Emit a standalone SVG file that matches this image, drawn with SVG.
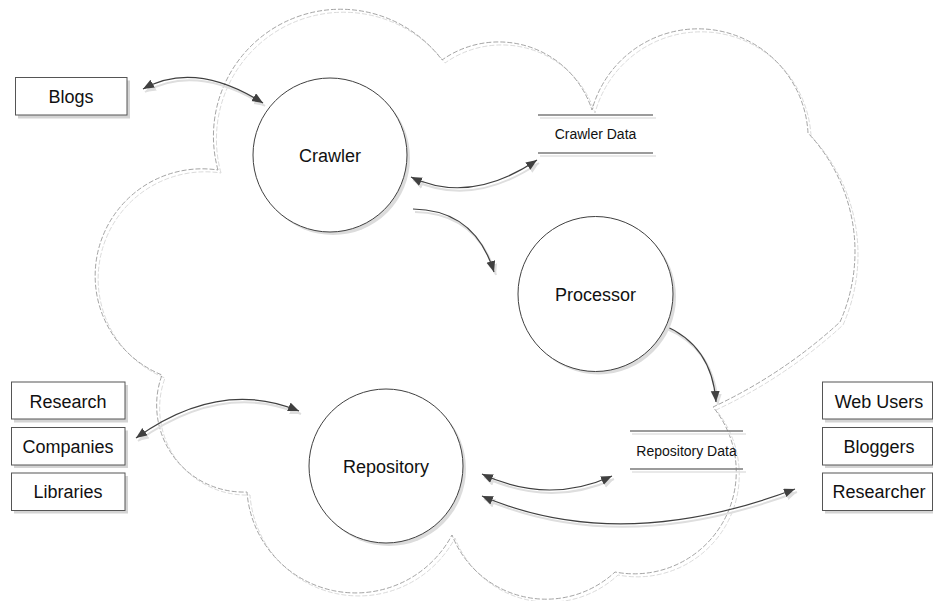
<svg xmlns="http://www.w3.org/2000/svg" width="933" height="601" viewBox="0 0 933 601">
<style>
.cloud{fill:none;stroke:#9a9a9a;stroke-width:0.9;stroke-dasharray:5 2}
.cloudsh{fill:none;stroke:#d6d6d6;stroke-width:0.9;stroke-dasharray:5 2}
.box{fill:#fff;stroke:#555;stroke-width:1}
.boxsh{fill:#d4d4d4;stroke:none}
.proc{fill:#fff;stroke:#404040;stroke-width:1}
.procsh{fill:#dcdcdc;stroke:none}
.store{stroke:#7a7a7a;stroke-width:1.6}
.storesh{stroke:#e2e2e2;stroke-width:1.6}
.lbl{font-family:"Liberation Sans",Arial,sans-serif;font-size:18px;fill:#111;text-anchor:middle}
.slbl{font-family:"Liberation Sans",Arial,sans-serif;font-size:14px;fill:#111;text-anchor:middle}
.flow{fill:none;stroke:#404040;stroke-width:1.2}
.flowsh{fill:none;stroke:#dedede;stroke-width:2}
</style>
<defs>
<marker id="ah" markerUnits="userSpaceOnUse" markerWidth="12" markerHeight="10" refX="11" refY="4.5" orient="auto-start-reverse" viewBox="0 0 12 10">
<path d="M0,0 L11,4.5 L0,9 z" fill="#404040"/>
</marker>
<marker id="ahs" markerUnits="userSpaceOnUse" markerWidth="12" markerHeight="10" refX="11" refY="4.5" orient="auto-start-reverse" viewBox="0 0 12 10">
<path d="M0,0 L11,4.5 L0,9 z" fill="#dedede"/>
</marker>
<path id="cloudpath" d="M218,170 A127,127 0 0 1 442,60 A98,98 0 0 1 592,110 A110,110 0 0 1 808,133 A173,173 0 0 1 840,322 A500,500 0 0 1 713,407 A102,102 0 0 1 615,572 A101,101 0 0 1 452,535 A109,109 0 0 1 247,492 A87,87 0 0 1 162,375 A107,107 0 0 1 218,170 Z"/>
</defs>

<g id="cloud">
<use href="#cloudpath" class="cloudsh" transform="translate(3,3)"/>
<use href="#cloudpath" class="cloud"/>
</g>

<g id="connectors">
<g transform="translate(2,3)">
<path class="flowsh" d="M143,89 Q195,60 263,103" marker-start="url(#ahs)" marker-end="url(#ahs)"/>
<path class="flowsh" d="M411,177 Q470,205 537,160" marker-start="url(#ahs)" marker-end="url(#ahs)"/>
<path class="flowsh" d="M413,209 Q475,210 494,272" marker-end="url(#ahs)"/>
<path class="flowsh" d="M663,325 Q712,345 716,402" marker-end="url(#ahs)"/>
<path class="flowsh" d="M136,438 Q220,378 299,411" marker-start="url(#ahs)" marker-end="url(#ahs)"/>
<path class="flowsh" d="M482,474 Q548,505 612,476" marker-start="url(#ahs)" marker-end="url(#ahs)"/>
<path class="flowsh" d="M482,496 Q620,555 795,489" marker-start="url(#ahs)" marker-end="url(#ahs)"/>
</g>
<path id="e-blogs-crawler" class="flow" d="M143,89 Q195,60 263,103" marker-start="url(#ah)" marker-end="url(#ah)"/>
<path id="e-crawler-cdata" class="flow" d="M411,177 Q470,205 537,160" marker-start="url(#ah)" marker-end="url(#ah)"/>
<path id="e-crawler-processor" class="flow" d="M413,209 Q475,210 494,272" marker-end="url(#ah)"/>
<path id="e-processor-rdata" class="flow" d="M663,325 Q712,345 716,402" marker-end="url(#ah)"/>
<path id="e-companies-repo" class="flow" d="M136,438 Q220,378 299,411" marker-start="url(#ah)" marker-end="url(#ah)"/>
<path id="e-repo-rdata" class="flow" d="M482,474 Q548,505 612,476" marker-start="url(#ah)" marker-end="url(#ah)"/>
<path id="e-repo-researcher" class="flow" d="M482,496 Q620,555 795,489" marker-start="url(#ah)" marker-end="url(#ah)"/>
</g>

<g id="blogs">
<rect class="boxsh" x="18" y="80.5" width="112" height="38"/>
<rect class="box" x="15.5" y="77.5" width="111.5" height="37.5"/>
<text class="lbl" x="71" y="103">Blogs</text>
</g>

<g id="crawler">
<circle class="procsh" cx="333" cy="158" r="77"/>
<circle class="proc" cx="330" cy="155" r="77"/>
<text class="lbl" x="330" y="162">Crawler</text>
</g>

<g id="crawler-data">
<line class="storesh" x1="540" y1="118" x2="656" y2="118"/>
<line class="storesh" x1="540" y1="156" x2="656" y2="156"/>
<line class="store" x1="538" y1="115" x2="653" y2="115"/>
<line class="store" x1="538" y1="153" x2="653" y2="153"/>
<text class="slbl" x="595.5" y="139">Crawler Data</text>
</g>

<g id="processor">
<circle class="procsh" cx="598.5" cy="297" r="77.5"/>
<circle class="proc" cx="595.5" cy="294" r="77.5"/>
<text class="lbl" x="595.5" y="301">Processor</text>
</g>

<g id="repository">
<circle class="procsh" cx="389" cy="469" r="77"/>
<circle class="proc" cx="386" cy="466" r="77"/>
<text class="lbl" x="386" y="473">Repository</text>
</g>

<g id="repository-data">
<line class="storesh" x1="632" y1="434" x2="746" y2="434"/>
<line class="storesh" x1="632" y1="472" x2="746" y2="472"/>
<line class="store" x1="630" y1="431" x2="743" y2="431"/>
<line class="store" x1="630" y1="469" x2="743" y2="469"/>
<text class="slbl" x="686.5" y="456">Repository Data</text>
</g>

<g id="research">
<rect class="boxsh" x="14" y="385" width="114" height="37.5"/>
<rect class="box" x="11.5" y="382" width="113.5" height="37"/>
<text class="lbl" x="68" y="408">Research</text>
</g>

<g id="companies">
<rect class="boxsh" x="14" y="430.5" width="114" height="37.5"/>
<rect class="box" x="11.5" y="427.5" width="113.5" height="37.5"/>
<text class="lbl" x="68" y="453">Companies</text>
</g>

<g id="libraries">
<rect class="boxsh" x="14" y="476" width="114" height="37.5"/>
<rect class="box" x="11.5" y="473" width="113.5" height="37.5"/>
<text class="lbl" x="68" y="498">Libraries</text>
</g>

<g id="web-users">
<rect class="boxsh" x="825" y="385" width="112" height="37.5"/>
<rect class="box" x="822.5" y="382" width="110" height="37"/>
<text class="lbl" x="879" y="408">Web Users</text>
</g>

<g id="bloggers">
<rect class="boxsh" x="825" y="430.5" width="112" height="37.5"/>
<rect class="box" x="822.5" y="427.5" width="110" height="37.5"/>
<text class="lbl" x="879" y="453">Bloggers</text>
</g>

<g id="researcher">
<rect class="boxsh" x="825" y="476" width="112" height="37.5"/>
<rect class="box" x="822.5" y="473" width="110" height="37.5"/>
<text class="lbl" x="879" y="498">Researcher</text>
</g>
</svg>
